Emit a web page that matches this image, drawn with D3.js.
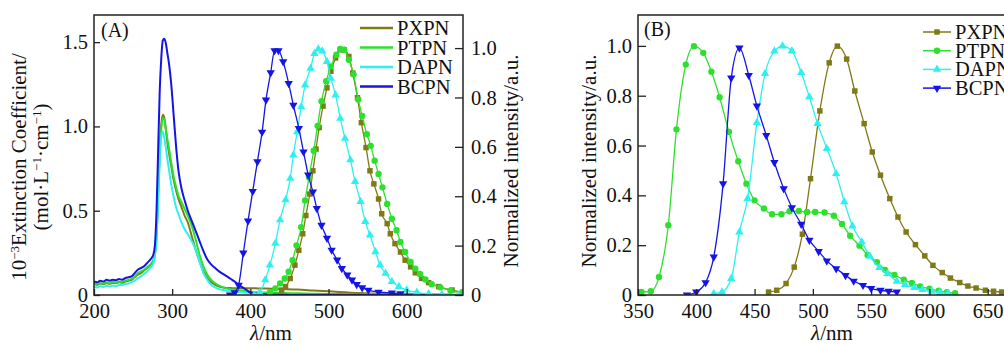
<!DOCTYPE html>
<html>
<head>
<meta charset="utf-8">
<script src="https://cdn.jsdelivr.net/npm/d3@7"></script>
<style>
  body { margin: 0; background: #fff; }
  text { font-family: "Liberation Serif", "Times New Roman", serif; fill: #111; }
</style>
</head>
<body>
<svg width="1004" height="345"></svg>
<script>
// ---- data ----
const names = ['PXPN', 'PTPN', 'DAPN', 'BCPN']
const colors = ['#7f7a16', '#2ee02e', '#2ef0f0', '#1414e6']

// (A) absorption, shared wavelength grid
const absWl = [200,204,208,212,216,220,224,228,232,236,240,244,248,252,256,260,264,268,272,276,
  278,280,282,284,286,288,290,292,294,296,299,302,305,308,312,316,320,
  325,330,335,340,345,350,355,360,365,370,375,380,385,390,395,400,
  410,420,440,460,480,500,540,580,620,672]
const absPxpn = [0.065,0.06,0.068,0.064,0.07,0.066,0.072,0.07,0.075,0.072,0.08,0.085,0.09,0.105,0.12,0.13,0.145,0.16,0.175,0.2,
  0.24,0.35,0.6,0.86,1.01,1.07,1.05,0.98,0.9,0.84,0.76,0.68,0.62,0.57,0.52,0.47,0.43,
  0.35,0.27,0.2,0.14,0.1,0.075,0.06,0.05,0.045,0.042,0.041,0.04,0.04,0.04,0.04,0.04,
  0.039,0.038,0.035,0.032,0.027,0.022,0.012,0.007,0.004,0]
const absPtpn = [0.07,0.065,0.072,0.068,0.075,0.07,0.078,0.074,0.08,0.078,0.085,0.09,0.095,0.11,0.13,0.14,0.15,0.165,0.18,0.21,
  0.25,0.36,0.58,0.82,0.98,1.05,1.04,0.98,0.92,0.87,0.78,0.7,0.64,0.59,0.55,0.51,0.47,
  0.41,0.33,0.24,0.17,0.12,0.09,0.07,0.055,0.045,0.038,0.034,0.031,0.028,0.025,0.022,0.02,
  0.017,0.015,0.012,0.01,0.008,0.006,0.004,0.003,0.002,0]
const absDapn = [0.05,0.045,0.052,0.048,0.055,0.05,0.056,0.052,0.06,0.058,0.065,0.068,0.075,0.085,0.1,0.11,0.125,0.14,0.16,0.19,
  0.24,0.33,0.55,0.8,0.94,0.97,0.93,0.87,0.8,0.74,0.65,0.58,0.52,0.48,0.43,0.39,0.36,
  0.32,0.27,0.2,0.13,0.09,0.06,0.045,0.035,0.03,0.025,0.022,0.02,0.017,0.015,0.013,0.012,
  0.01,0.008,0.006,0.005,0.004,0.003,0.002,0.001,0,0]
const absBcpn = [0.08,0.075,0.085,0.08,0.09,0.085,0.09,0.088,0.095,0.09,0.1,0.105,0.11,0.13,0.15,0.16,0.17,0.19,0.21,0.24,
  0.3,0.5,0.85,1.2,1.4,1.51,1.52,1.49,1.43,1.37,1.24,1.06,0.88,0.74,0.63,0.56,0.5,
  0.44,0.38,0.32,0.26,0.21,0.18,0.16,0.14,0.125,0.11,0.095,0.08,0.06,0.045,0.03,0.015,
  0.008,0.005,0.003,0.002,0.002,0.001,0.001,0,0,0]

// (A) emission, normalized [nm, I]
const emA_pxpn = [[440,0.02],[445,0.034],[451,0.067],[457,0.121],[462,0.181],[467,0.248],[471,0.322],[476,0.409],[480,0.503],
  [484,0.591],[488,0.678],[493,0.765],[498,0.839],[503,0.906],[509,0.96],[515,0.993],[520,0.993],[526,0.966],[531,0.899],
  [537,0.799],[542,0.698],[548,0.597],[553,0.503],[558,0.45],[564,0.389],[568,0.329],[575,0.289],[579,0.248],[585,0.208],
  [592,0.174],[598,0.141],[605,0.114],[611,0.09],[619,0.067],[628,0.05],[641,0.034],[658,0.02],[672,0.012]]
const emA_ptpn = [[425,0.01],[432,0.027],[438,0.047],[444,0.067],[449,0.094],[454,0.141],[459,0.201],[465,0.275],[470,0.383],
  [475,0.477],[481,0.584],[486,0.685],[491,0.785],[497,0.866],[503,0.926],[510,0.973],[515,0.997],[520,0.993],[526,0.953],
  [532,0.893],[538,0.792],[543,0.725],[549,0.651],[554,0.604],[559,0.544],[564,0.49],[569,0.436],[575,0.369],[581,0.309],
  [587,0.262],[592,0.215],[598,0.174],[605,0.134],[611,0.107],[617,0.085],[624,0.063],[632,0.044],[643,0.031],[656,0.017],[671,0.009]]
const emA_dapn = [[405,0],[412,0.01],[419,0.061],[425,0.121],[432,0.209],[438,0.304],[445,0.385],[451,0.472],[455,0.567],
  [460,0.661],[465,0.762],[470,0.85],[477,0.918],[482,0.978],[487,0.996],[492,0.988],[498,0.945],[503,0.877],[509,0.81],
  [515,0.715],[521,0.634],[528,0.547],[534,0.459],[541,0.378],[547,0.297],[553,0.243],[560,0.175],[566,0.121],[573,0.088],
  [581,0.054],[590,0.034],[600,0.02],[613,0.011],[628,0.005],[645,0.003],[666,0]]
const emA_bcpn = [[374,0],[380,0.01],[385,0.04],[391,0.17],[397,0.3],[403,0.42],[409,0.54],[415,0.66],[420,0.79],[426,0.9],
  [431,0.99],[436,0.99],[442,0.945],[449,0.857],[455,0.769],[462,0.675],[468,0.58],[474,0.486],[480,0.418],[485,0.351],
  [491,0.283],[498,0.23],[504,0.182],[511,0.142],[517,0.108],[524,0.081],[530,0.061],[536,0.043],[543,0.03],[551,0.02],
  [564,0.012],[581,0.008],[592,0.005]]

// (B) emission, normalized [nm, I]
const emB_pxpn = [[462,0.012],[469,0.019],[477,0.046],[484,0.112],[491,0.244],[498,0.467],[506,0.739],[514,0.932],[521,0.999],
  [529,0.947],[536,0.819],[544,0.688],[551,0.574],[558,0.481],[566,0.387],[573,0.313],[580,0.253],[588,0.202],[596,0.157],
  [603,0.119],[611,0.09],[618,0.068],[626,0.05],[633,0.036],[640,0.028],[648,0.019],[655,0.015],[662,0.012],[670,0.01],[677,0.008]]
const emB_ptpn = [[353,0.012],[361,0.015],[368,0.072],[376,0.28],[383,0.665],[391,0.925],[398,0.999],[406,0.972],[413,0.896],
  [420,0.794],[428,0.655],[436,0.537],[443,0.447],[450,0.38],[458,0.347],[465,0.324],[473,0.324],[480,0.336],[488,0.337],
  [495,0.333],[502,0.333],[510,0.331],[518,0.318],[525,0.285],[532,0.238],[540,0.198],[547,0.161],[555,0.132],[562,0.101],
  [570,0.081],[578,0.061],[585,0.048],[592,0.034],[600,0.025],[608,0.017],[615,0.011],[622,0.007]]
const emB_dapn = [[415,0.006],[422,0.012],[430,0.066],[437,0.253],[444,0.387],[452,0.692],[459,0.889],[467,0.979],[474,0.999],
  [482,0.98],[490,0.893],[497,0.795],[504,0.688],[512,0.588],[520,0.487],[527,0.374],[534,0.277],[542,0.213],[549,0.155],
  [557,0.11],[564,0.086],[572,0.055],[579,0.042],[587,0.03],[594,0.022],[602,0.015],[609,0.01],[616,0.006]]
const emB_bcpn = [[392,0],[400,0.012],[408,0.05],[415,0.153],[423,0.447],[430,0.871],[437,0.992],[445,0.882],[452,0.759],
  [460,0.641],[467,0.532],[475,0.427],[482,0.351],[490,0.284],[497,0.22],[505,0.175],[512,0.137],[520,0.106],[528,0.079],
  [535,0.056],[543,0.039],[550,0.026],[558,0.019],[565,0.015],[572,0.012]]

const ticksAx = [200, 300, 400, 500, 600]
const ticksAyL = [0, 0.5, 1.0, 1.5]
const ticksAyR = [0, 0.2, 0.4, 0.6, 0.8, 1.0]
const ticksBx = [350, 400, 450, 500, 550, 600, 650]
const ticksBy = [0, 0.2, 0.4, 0.6, 0.8, 1.0]

// ---- layout ----
const svg = d3.select('svg')
const fmt = d => d === 0 ? '0' : d3.format('.1f')(d)
const symbols = [
  {type: d3.symbolSquare, size: 30, rot: 0},
  {type: d3.symbolCircle, size: 32, rot: 0},
  {type: d3.symbolTriangle, size: 30, rot: 0},
  {type: d3.symbolTriangle, size: 30, rot: 180}
]

function styleAxis(g) {
  g.select('.domain').remove()
  g.selectAll('line').attr('stroke', '#222').attr('stroke-width', 1.3)
  g.selectAll('text').attr('font-size', 20.5).attr('fill', '#111')
    .style('font-family', '"Liberation Serif", serif')
}

function drawSeries(g, data, x, y, i, withMarkers, width) {
  g.append('path')
    .datum(data)
    .attr('fill', 'none')
    .attr('stroke', colors[i])
    .attr('stroke-width', width)
    .attr('d', d3.line().x(d => x(d[0])).y(d => y(d[1])).curve(d3.curveMonotoneX))
  if (!withMarkers) return
  const s = symbols[i]
  g.selectAll(null)
    .data(data)
    .join('path')
    .attr('transform', d => `translate(${x(d[0])},${y(d[1])}) rotate(${s.rot})`)
    .attr('d', d3.symbol(s.type, s.size))
    .attr('fill', colors[i])
}

// ===== Panel (A) =====
const xA = d3.scaleLinear().domain([200, 672]).range([94, 463])
const yAL = d3.scaleLinear().domain([0, 1.661]).range([295, 15])
const yAR = d3.scaleLinear().domain([0, 1.134]).range([295, 15])

svg.append('clipPath').attr('id', 'clipA')
  .append('rect').attr('x', 94).attr('y', 15).attr('width', 369).attr('height', 280)

const plotA = svg.append('g').attr('clip-path', 'url(#clipA)')
const absSets = [absPxpn, absPtpn, absDapn, absBcpn]
const emASets = [emA_pxpn, emA_ptpn, emA_dapn, emA_bcpn]
absSets.forEach((vals, i) => {
  drawSeries(plotA, absWl.map((w, k) => [w, vals[k]]), xA, yAL, i, false, 2)
})
emASets.forEach((data, i) => drawSeries(plotA, data, xA, yAR, i, true, 1.3))

svg.append('g').attr('transform', 'translate(0,295)')
  .call(d3.axisBottom(xA).tickValues(ticksAx).tickSizeInner(-6).tickSizeOuter(0).tickPadding(8))
  .call(styleAxis)
svg.append('g').attr('transform', 'translate(94,0)')
  .call(d3.axisLeft(yAL).tickValues(ticksAyL).tickFormat(fmt).tickSizeInner(-6).tickSizeOuter(0).tickPadding(6))
  .call(styleAxis)
svg.append('g').attr('transform', 'translate(463,0)')
  .call(d3.axisRight(yAR).tickValues(ticksAyR).tickFormat(fmt).tickSizeInner(-8).tickSizeOuter(0).tickPadding(8))
  .call(styleAxis)

svg.append('rect').attr('x', 94).attr('y', 15).attr('width', 369).attr('height', 280)
  .attr('fill', 'none').attr('stroke', '#222').attr('stroke-width', 1.5)

svg.append('text').attr('x', 101).attr('y', 37).attr('font-size', 20).text('(A)')

// legend A: plain lines
names.forEach((n, i) => {
  const yy = 28 + i * 19.5
  svg.append('line').attr('x1', 360).attr('x2', 393).attr('y1', yy).attr('y2', yy)
    .attr('stroke', colors[i]).attr('stroke-width', 2.5)
  svg.append('text').attr('x', 397).attr('y', yy + 7).attr('font-size', 20.5).text(n)
})

// axis titles A
const tL = svg.append('text').attr('transform', 'translate(26,167) rotate(-90)')
  .attr('text-anchor', 'middle').attr('font-size', 21)
tL.append('tspan').text('10')
tL.append('tspan').attr('dy', -7).attr('font-size', 13).text('−3')
tL.append('tspan').attr('dy', 7).text('Extinction Coefficient/')
const tL2 = svg.append('text').attr('transform', 'translate(48,167) rotate(-90)')
  .attr('text-anchor', 'middle').attr('font-size', 21)
tL2.append('tspan').text('(mol·L')
tL2.append('tspan').attr('dy', -7).attr('font-size', 13).text('−1')
tL2.append('tspan').attr('dy', 7).text('·cm')
tL2.append('tspan').attr('dy', -7).attr('font-size', 13).text('−1')
tL2.append('tspan').attr('dy', 7).text(')')

svg.append('text').attr('transform', 'translate(518,161) rotate(-90)')
  .attr('text-anchor', 'middle').attr('font-size', 21).text('Normalized intensity/a.u.')

const xtA = svg.append('text').attr('x', 271).attr('y', 340).attr('text-anchor', 'middle').attr('font-size', 21)
xtA.append('tspan').attr('font-style', 'italic').text('λ')
xtA.append('tspan').text('/nm')

// ===== Panel (B) =====
const xB = d3.scaleLinear().domain([350, 700]).range([638, 1046])
const yB = d3.scaleLinear().domain([0, 1.124]).range([295, 15])

svg.append('clipPath').attr('id', 'clipB')
  .append('rect').attr('x', 638).attr('y', 15).attr('width', 408).attr('height', 280)
const plotB = svg.append('g').attr('clip-path', 'url(#clipB)')
const emBSets = [emB_pxpn, emB_ptpn, emB_dapn, emB_bcpn]
emBSets.forEach((data, i) => drawSeries(plotB, data, xB, yB, i, true, 1.3))

svg.append('g').attr('transform', 'translate(0,295)')
  .call(d3.axisBottom(xB).tickValues(ticksBx).tickSizeInner(-6).tickSizeOuter(0).tickPadding(8))
  .call(styleAxis)
svg.append('g').attr('transform', 'translate(638,0)')
  .call(d3.axisLeft(yB).tickValues(ticksBy).tickFormat(fmt).tickSizeInner(-8).tickSizeOuter(0).tickPadding(6))
  .call(styleAxis)

svg.append('rect').attr('x', 638).attr('y', 15).attr('width', 408).attr('height', 280)
  .attr('fill', 'none').attr('stroke', '#222').attr('stroke-width', 1.5)

svg.append('text').attr('x', 644).attr('y', 36).attr('font-size', 20).text('(B)')

// legend B: line with marker
names.forEach((n, i) => {
  const yy = 32 + i * 18.7
  svg.append('line').attr('x1', 923).attr('x2', 951).attr('y1', yy).attr('y2', yy)
    .attr('stroke', colors[i]).attr('stroke-width', 1.5)
  const s = symbols[i]
  svg.append('path').attr('transform', `translate(937,${yy}) rotate(${s.rot})`)
    .attr('d', d3.symbol(s.type, s.size)).attr('fill', colors[i])
  svg.append('text').attr('x', 955).attr('y', yy + 7).attr('font-size', 20.5).text(n)
})

svg.append('text').attr('transform', 'translate(596,161) rotate(-90)')
  .attr('text-anchor', 'middle').attr('font-size', 21).text('Normalized intensity/a.u.')

const xtB = svg.append('text').attr('x', 832).attr('y', 340).attr('text-anchor', 'middle').attr('font-size', 21)
xtB.append('tspan').attr('font-style', 'italic').text('λ')
xtB.append('tspan').text('/nm')
</script>
</body>
</html>
